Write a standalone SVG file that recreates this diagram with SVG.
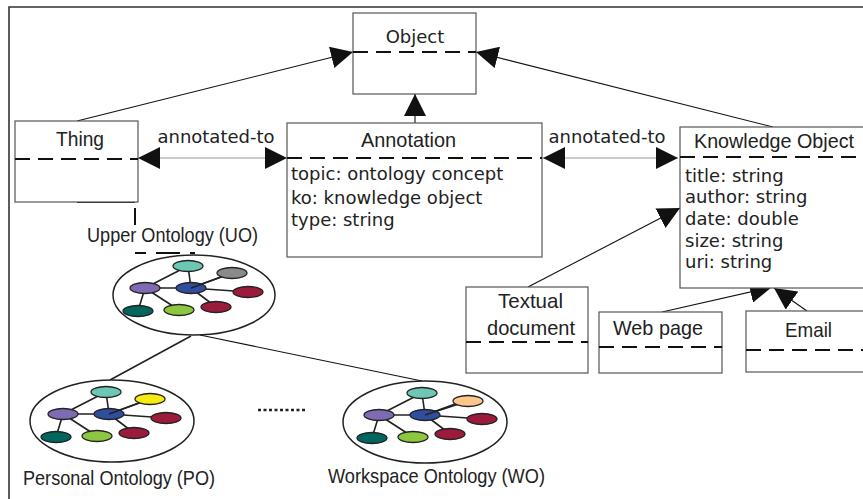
<svg xmlns="http://www.w3.org/2000/svg" xmlns:xlink="http://www.w3.org/1999/xlink" width="863" height="499" viewBox="0 0 863 499">
<style>
.box{fill:#fff;stroke:#555;stroke-width:1.2}
.dash{stroke:#111;stroke-width:2;stroke-dasharray:15 8;fill:none}
.ar{font-family:"Liberation Sans",Arial,sans-serif;font-size:21px;fill:#222}
.vd{font-family:"DejaVu Sans",Verdana,sans-serif;font-size:18px;fill:#222}
.con{stroke:#111;stroke-width:1.1;fill:none}
.ne{stroke:#222;stroke-width:1.6;fill:none}
.nd{stroke:#222;stroke-width:1.3}
.ring{fill:#fff;stroke:#222;stroke-width:1.5}
</style>
<defs>
<marker id="tri" viewBox="0 0 22 22" refX="22" refY="11" markerWidth="22" markerHeight="22" markerUnits="userSpaceOnUse" orient="auto-start-reverse">
<path d="M0,0 L22,11 L0,22 z" fill="#111"/>
</marker>
<g id="net">
<path class="ne" d="M-6,-29 L-3,-7 M-6,-29 L-49,-7 M-49,-7 L-3,-7 M-3,-7 L38,-22 M-3,-7 L54,-3 M-3,-7 L22,12 M-49,-7 L-56,16 M-49,-7 L-15,15"/>
<ellipse class="nd" cx="-6" cy="-29" rx="15" ry="5.5" fill="#6cc8b4"/>
<ellipse class="nd" cx="-49" cy="-7" rx="15" ry="5.5" fill="#7f6bb3"/>
<ellipse class="nd" cx="-3" cy="-7" rx="15" ry="5.5" fill="#2f4e9e"/>
<ellipse class="nd" cx="54" cy="-3" rx="15" ry="5.5" fill="#9b1b3d"/>
<ellipse class="nd" cx="22" cy="12" rx="15" ry="5.5" fill="#9b1b3d"/>
<ellipse class="nd" cx="-56" cy="16" rx="15" ry="5.5" fill="#00665e"/>
<ellipse class="nd" cx="-15" cy="15" rx="15" ry="5.5" fill="#8dc63f"/>
</g>
</defs>
<rect width="863" height="499" fill="#fff"/>
<path d="M9,499 L9,7 L863,7" fill="none" stroke="#333" stroke-width="1.6"/>

<g id="connectors">
<line class="con" x1="77" y1="121" x2="353" y2="52" marker-end="url(#tri)"/>
<line class="con" x1="773" y1="127" x2="476" y2="52" marker-end="url(#tri)"/>
<line class="con" x1="415" y1="123" x2="415" y2="94" marker-end="url(#tri)"/>
<line x1="138" y1="158" x2="287" y2="158" stroke="#999" stroke-width="1.2" marker-start="url(#tri)" marker-end="url(#tri)"/>
<line x1="543" y1="158" x2="678" y2="158" stroke="#999" stroke-width="1.2" marker-start="url(#tri)" marker-end="url(#tri)"/>
<line class="con" x1="528" y1="287" x2="680" y2="208" marker-end="url(#tri)"/>
<line class="con" x1="662" y1="312" x2="772" y2="287" marker-end="url(#tri)"/>
<line class="con" x1="807" y1="311" x2="774" y2="288" marker-end="url(#tri)"/>
<line x1="191" y1="336" x2="110" y2="380" stroke="#222" stroke-width="1.6"/>
<line class="con" x1="200" y1="335" x2="422" y2="381"/>
<line x1="258" y1="410" x2="305" y2="410" stroke="#222" stroke-width="2.5" stroke-dasharray="3 2.5"/>
<path d="M77,202 L135,202 M135,208 L135,225 M135,253 L146,253 M156,253 L180,253 M190,253 L195,253" stroke="#111" stroke-width="2" fill="none"/>
</g>

<g id="object">
<rect class="box" x="353" y="13" width="123" height="81"/>
<line class="dash" x1="353" y1="52" x2="476" y2="52"/>
<text class="vd" x="415" y="43" text-anchor="middle">Object</text>
</g>

<g id="thing">
<rect class="box" x="15" y="121" width="123" height="81"/>
<line class="dash" x1="15" y1="159" x2="138" y2="159"/>
<text class="ar" x="56" y="146" textLength="48" lengthAdjust="spacingAndGlyphs">Thing</text>
</g>
<text class="vd" x="216" y="143" text-anchor="middle">annotated-to</text>
<text class="vd" x="607" y="143" text-anchor="middle">annotated-to</text>

<g id="annotation">
<rect class="box" x="287" y="123" width="255" height="134"/>
<line class="dash" x1="287" y1="158" x2="542" y2="158"/>
<text class="ar" x="361" y="147" textLength="95" lengthAdjust="spacingAndGlyphs">Annotation</text>
<text class="vd" x="291" y="180">topic: ontology concept</text>
<text class="vd" x="291" y="204">ko: knowledge object</text>
<text class="vd" x="291" y="226">type: string</text>
</g>

<g id="knowledge-object">
<rect class="box" x="680" y="127" width="200" height="161"/>
<line class="dash" x1="680" y1="157" x2="863" y2="157"/>
<text class="ar" x="694" y="148" textLength="160" lengthAdjust="spacingAndGlyphs">Knowledge Object</text>
<text class="vd" x="685" y="182">title: string</text>
<text class="vd" x="685" y="203">author: string</text>
<text class="vd" x="685" y="225">date: double</text>
<text class="vd" x="685" y="247">size: string</text>
<text class="vd" x="685" y="268">uri: string</text>
</g>

<g id="textual-document">
<rect class="box" x="466" y="287" width="122" height="86"/>
<line class="dash" x1="466" y1="342" x2="588" y2="342"/>
<text class="ar" x="498" y="308" textLength="65" lengthAdjust="spacingAndGlyphs">Textual</text>
<text class="ar" x="487" y="335" textLength="88" lengthAdjust="spacingAndGlyphs">document</text>
</g>

<g id="web-page">
<rect class="box" x="599" y="312" width="123" height="61"/>
<line class="dash" x1="599" y1="347" x2="722" y2="347"/>
<text class="ar" x="613" y="335" textLength="90" lengthAdjust="spacingAndGlyphs">Web page</text>
</g>

<g id="email">
<rect class="box" x="746" y="311" width="130" height="61"/>
<line class="dash" x1="746" y1="350" x2="863" y2="350"/>
<text class="ar" x="785" y="337" textLength="47" lengthAdjust="spacingAndGlyphs">Email</text>
</g>

<g id="upper-ontology">
<text class="ar" x="87" y="242" textLength="171" lengthAdjust="spacingAndGlyphs">Upper Ontology (UO)</text>
<ellipse class="ring" cx="194" cy="295" rx="81" ry="40"/>
<use xlink:href="#net" x="194" y="295"/>
<path class="ne" d="M191,288 L232,273"/>
<ellipse class="nd" cx="232" cy="273" rx="15" ry="5.5" fill="#8a8a8a"/>
</g>

<g id="personal-ontology">
<ellipse class="ring" cx="112" cy="421" rx="82" ry="41"/>
<use xlink:href="#net" x="112" y="421"/>
<path class="ne" d="M109,414 L150,399"/>
<ellipse class="nd" cx="150" cy="399" rx="15" ry="5.5" fill="#f5ea14"/>
<text class="ar" x="23" y="485" textLength="192" lengthAdjust="spacingAndGlyphs">Personal Ontology (PO)</text>
</g>

<g id="workspace-ontology">
<ellipse class="ring" cx="425" cy="422" rx="82" ry="41"/>
<use xlink:href="#net" x="428" y="422"/>
<path class="ne" d="M425,415 L468,401"/>
<ellipse class="nd" cx="468" cy="401" rx="15" ry="5.5" fill="#fdc78c"/>
<text class="ar" x="328" y="483" textLength="217" lengthAdjust="spacingAndGlyphs">Workspace Ontology (WO)</text>
</g>
</svg>
